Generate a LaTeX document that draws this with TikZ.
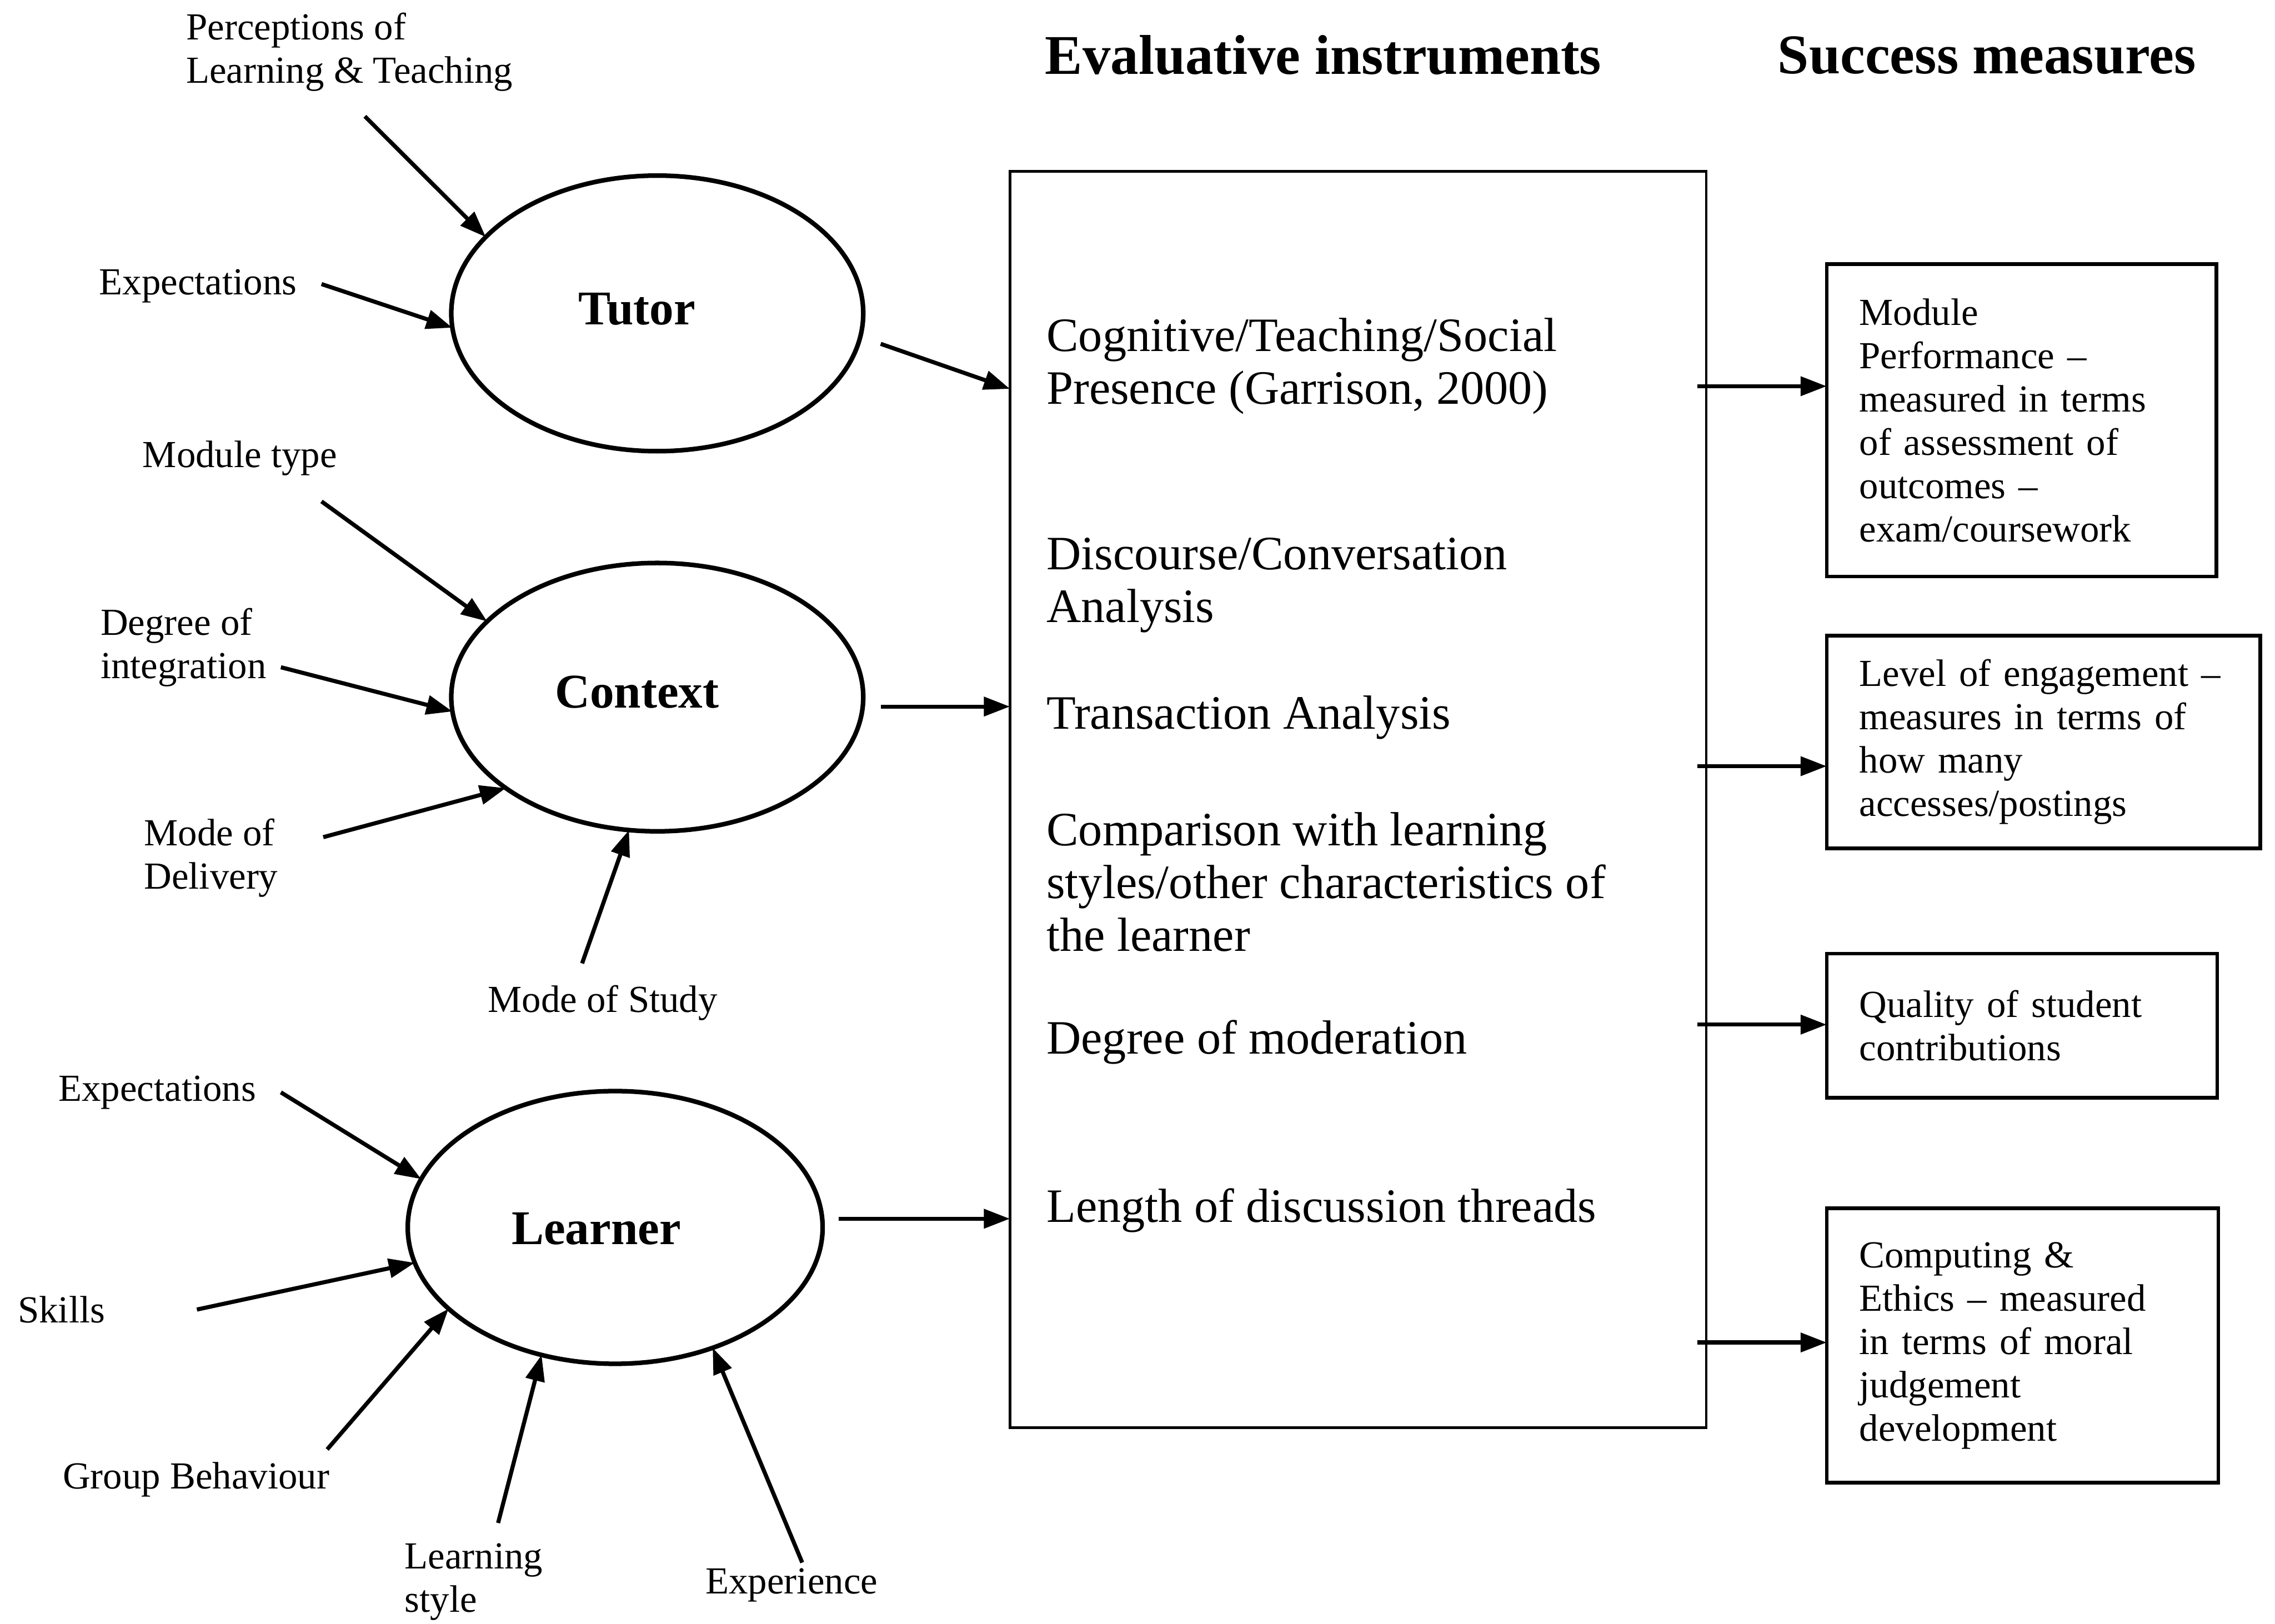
\documentclass[tikz,border=0pt]{standalone}
\usepackage{fontspec}
\setmainfont{Liberation Serif}
\usetikzlibrary{arrows.meta,shapes.geometric,calc}
\begin{document}
\begin{tikzpicture}[x=0.02cm,y=-0.02cm,
  lab/.style={font=\fontsize{15}{17}\selectfont, align=left, inner sep=0, anchor=west},
  ttl/.style={font=\bfseries\fontsize{22}{26}\selectfont, inner sep=0, anchor=west},
  ell/.style={ellipse, draw, line width=1.8pt, inner sep=0, outer sep=0},
  elltxt/.style={font=\bfseries\fontsize{19}{22}\selectfont, inner sep=0},
  inst/.style={font=\fontsize{18.8}{20.7}\selectfont, align=left, inner sep=0, anchor=west},
  meas/.style={draw, line width=1.4pt, anchor=north west, align=left, inner xsep=0.45cm, inner ysep=0, outer sep=0, font=\fontsize{15}{17}\selectfont},
  arr/.style={line width=1.6pt, -{Triangle[length=0.36cm,width=0.26cm]}},
]
\useasboundingbox (0,0) rectangle (1568,1119);

% titles
\node[ttl] (t_eval) at (720,38) {Evaluative instruments};
\node[ttl] (t_succ) at (1225,38) {Success measures};

% ellipses
\node[ell, minimum width=5.68cm, minimum height=3.8cm] (tutor) at (453,216) {};
\node[elltxt] (tutortxt) at (439,213) {Tutor};
\node[ell, minimum width=5.68cm, minimum height=3.7cm] (context) at (453,480.5) {};
\node[elltxt] (contexttxt) at (439,477) {Context};
\node[ell, minimum width=5.72cm, minimum height=3.76cm] (learner) at (424,846) {};
\node[elltxt] (learnertxt) at (411,847) {Learner};

% input labels
\node[lab] (l_perc) at (128,36) {Perceptions of\\Learning \& Teaching};
\node[lab] (l_expT) at (68,197) {Expectations};
\node[lab] (l_mod) at (98,316) {Module type};
\node[lab] (l_deg) at (69,446.3) {Degree of\\integration};
\node[lab] (l_del) at (99,591.3) {Mode of\\Delivery};
\node[lab] (l_stu) at (336,691.3) {Mode of Study};
\node[lab] (l_expL) at (40,752.9) {Expectations};
\node[lab] (l_ski) at (12,902.6) {Skills};
\node[lab] (l_grp) at (43,1019.8) {Group Behaviour};
\node[lab] (l_lst) at (278.6,1090.1) {Learning\\style};
\node[lab] (l_exp) at (486,1092.7) {Experience};

% arrow starts
\coordinate (pA) at (251.5,80.2);
\coordinate (eA) at (221.6,195.8);
\coordinate (mA) at (221.6,345.6);
\coordinate (dA) at (193.6,459.9);
\coordinate (delA) at (222.8,577);
\coordinate (sA) at (401.2,664);
\coordinate (leA) at (193.6,752.9);
\coordinate (skA) at (135.7,902.6);
\coordinate (gA) at (225.5,999);
\coordinate (lsA) at (343.3,1049.7);
\coordinate (exA) at (552.9,1077);

\draw[arr] (pA) -- (tutor.156);
\draw[arr] (eA) -- (tutor.184);
\draw[arr] (mA) -- (context.156);
\draw[arr] (dA) -- (context.184);
\draw[arr] (delA) -- (context.211);
\draw[arr] (sA) -- (context.258);
\draw[arr] (leA) -- (learner.166);
\draw[arr] (skA) -- (learner.190);
\draw[arr] (gA) -- (learner.206);
\draw[arr] (lsA) -- (learner.240);
\draw[arr] (exA) -- (learner.309);

% middle box
\node[draw, line width=1pt, minimum width=9.6cm, minimum height=17.32cm, inner sep=0, outer sep=0] (box) at (936,551) {};
\node[inst] (i1) at (721,252.3) {Cognitive/Teaching/Social\\Presence (Garrison, 2000)};
\node[inst] (i2) at (721,403.2) {Discourse/Conversation\\Analysis};
\node[inst] (i3) at (721,494.6) {Transaction Analysis};
\node[inst] (i4) at (721,607.8) {Comparison with learning\\styles/other characteristics of\\the learner};
\node[inst] (i5) at (721,718.2) {Degree of moderation};
\node[inst] (i6) at (721,834.3) {Length of discussion threads};

% ellipse -> box
\coordinate (tA) at (607,237);
\coordinate (tB) at (0,268);
\coordinate (cA) at (607,487);
\coordinate (lA) at (578,840);
\draw[arr] (tA) -- (box.west |- tB);
\draw[arr] (cA) -- (box.west |- cA);
\draw[arr] (lA) -- (box.west |- lA);

% success measures
\node[meas, minimum width=5.372cm, text width=4.472cm, minimum height=4.308cm] (m1) at (1259,182)
  {Module\\Performance \textendash\\measured in terms\\of assessment of\\outcomes \textendash\\exam/coursework};
\node[meas, minimum width=5.978cm, text width=5.078cm, minimum height=2.932cm] (m2) at (1259,438.1)
  {Level of engagement \textendash\\measures in terms of\\how many\\accesses/postings};
\node[meas, minimum width=5.384cm, text width=4.484cm, minimum height=1.988cm] (m3) at (1259,657.2)
  {Quality of student\\contributions};
\node[meas, minimum width=5.4cm, text width=4.5cm, minimum height=3.784cm] (m4) at (1259,832.8)
  {Computing \&\\Ethics \textendash\ measured\\in terms of moral\\judgement\\development};

\coordinate (r1) at (1170,266.2);
\coordinate (r2) at (1170,528.1);
\coordinate (r3) at (1170,706.2);
\coordinate (r4) at (1170,925.3);
\draw[arr] (r1) -- (r1 -| m1.west);
\draw[arr] (r2) -- (r2 -| m2.west);
\draw[arr] (r3) -- (r3 -| m3.west);
\draw[arr] (r4) -- (r4 -| m4.west);
\end{tikzpicture}
\end{document}
